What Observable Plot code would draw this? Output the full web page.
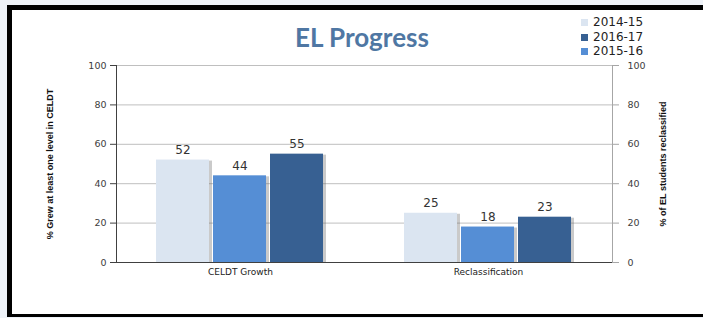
<!DOCTYPE html>
<html><head><meta charset="utf-8">
<script src="https://cdn.jsdelivr.net/npm/d3@7"></script>
<script src="https://cdn.jsdelivr.net/npm/@observablehq/plot@0.6"></script>
<style>
html,body{margin:0;padding:0;background:#eef2f8;width:703px;height:318px;overflow:hidden;}
#box{position:absolute;left:7px;top:5px;width:691px;height:304px;background:#fff;border-left:5px solid #000;border-top:5px solid #000;border-bottom:3px solid #000;}
#chart{position:absolute;left:0;top:0;}
#title{position:absolute;left:230px;width:240px;top:12px;text-align:center;font:bold 26px Lato, "Open Sans", sans-serif;color:#4f77a3;line-height:30px;}
#legend{position:absolute;left:569px;top:5px;font:12px "DejaVu Sans", sans-serif;color:#222;}
#legend div{height:14.5px;line-height:14.5px;white-space:nowrap;}
#legend span{display:inline-block;width:7px;height:7px;margin-right:5px;vertical-align:0px;}
</style></head>
<body>
<div id="box">
  <div id="chart"></div>
  <div id="title"></div>
  <div id="legend"></div>
</div>
<script>
const titleText = "EL Progress";
const categories = ["CELDT Growth", "Reclassification"];
const years = ["2014-15", "2015-16", "2016-17"];
const values2014_15 = [52, 25];
const values2015_16 = [44, 18];
const values2016_17 = [55, 23];
const legendOrder = ["2014-15", "2016-17", "2015-16"];
const yTicks = [0, 20, 40, 60, 80, 100];
const leftLabel = "% Grew at least one level in CELDT";
const rightLabel = "% of EL students reclassified";
const colors = ["#dbe5f1", "#558ed5", "#376092"];

const series = [values2014_15, values2015_16, values2016_17];
const rows = [];
categories.forEach((c, i) => years.forEach((y, j) => rows.push({category: c, year: y, value: series[j][i]})));

document.getElementById("title").textContent = titleText;
const colorOf = Object.fromEntries(years.map((y, i) => [y, colors[i]]));
const leg = document.getElementById("legend");
legendOrder.forEach(y => {
  const d = document.createElement("div");
  const s = document.createElement("span");
  s.style.background = colorOf[y];
  d.appendChild(s);
  d.appendChild(document.createTextNode(y));
  leg.appendChild(d);
});

const labelFont = '"Liberation Sans Narrow", "Arial Narrow", "Liberation Sans", sans-serif';

const chart = Plot.plot({
  width: 691,
  height: 304,
  marginTop: 55,
  marginBottom: 52,
  marginLeft: 104,
  marginRight: 91,
  style: {fontFamily: '"DejaVu Sans", sans-serif', color: "#404040", background: "transparent"},
  fx: {domain: categories, padding: 0, label: null},
  x: {domain: years, paddingInner: 0.07, paddingOuter: 0.71, axis: null},
  y: {domain: [0, 100], axis: null},
  color: {domain: years, range: colors},
  marks: [
    Plot.gridY(yTicks.filter(t => t > 0), {stroke: "#bfbfbf", strokeOpacity: 1}),
    Plot.barY(rows, {fx: "category", x: "year", y: "value", fill: "#666", fillOpacity: 0.35, dx: 3, dy: 1}),
    Plot.barY(rows, {fx: "category", x: "year", y: "value", fill: "year"}),
    Plot.text(rows, {fx: "category", x: "year", y: "value", text: d => String(d.value), dy: -10, fontSize: 12, fill: "#333"}),
    Plot.ruleY([0], {stroke: "#404040"}),
    Plot.frame({anchor: "left", facetAnchor: "left", stroke: "#404040"}),
    Plot.frame({anchor: "right", facetAnchor: "right", stroke: "#a6a6a6"}),
    Plot.axisY({anchor: "left", ticks: yTicks, tickSize: 6, tickPadding: 4, fontSize: 9.5, stroke: "#404040", fill: "#404040", label: null}),
    Plot.axisY({anchor: "right", ticks: yTicks, tickSize: 6, tickPadding: 9, fontSize: 9.5, stroke: "#a6a6a6", fill: "#404040", label: null}),
    Plot.axisFx({anchor: "bottom", tickSize: 0, tickPadding: 6, fontSize: 9, fill: "#222", label: null}),
    Plot.text([leftLabel], {frameAnchor: "left", textAnchor: "middle", rotate: -90, dx: -66, facetAnchor: "left", fontFamily: labelFont, fontWeight: "bold", fontSize: 9, fill: "#111"}),
    Plot.text([rightLabel], {frameAnchor: "right", textAnchor: "middle", rotate: -90, dx: 51, facetAnchor: "right", fontFamily: labelFont, fontWeight: "bold", fontSize: 9, fill: "#111"})
  ]
});
document.getElementById("chart").appendChild(chart);
</script>
</body></html>
